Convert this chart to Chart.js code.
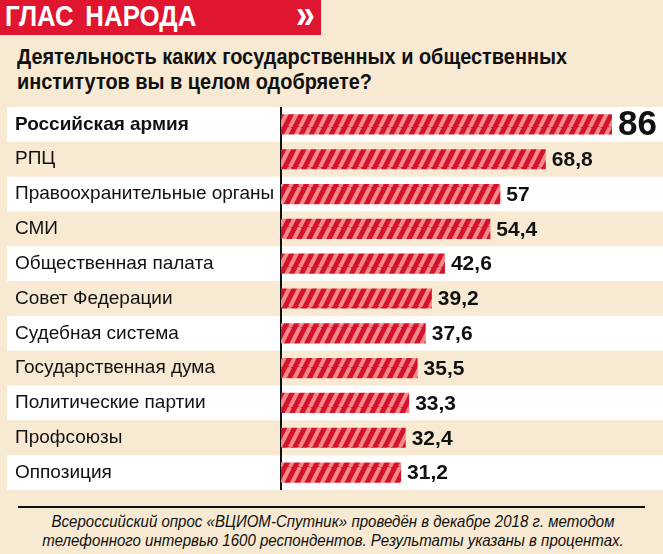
<!DOCTYPE html>
<html lang="ru">
<head>
<meta charset="utf-8">
<script src="https://cdn.jsdelivr.net/npm/chart.js@4/dist/chart.umd.min.js"></script>
<style>
  html, body { margin: 0; padding: 0; }
  body { width: 663px; height: 554px; background: #f8ead2; position: relative; overflow: hidden; font-family: "Liberation Sans", Arial, sans-serif; }
  .head { position: absolute; left: 0; top: 0; width: 321px; height: 35px; background: #e0152f; color: #fff; overflow: hidden; }
  .head .t { position: absolute; left: 5px; top: 0px; font: bold 29px "Liberation Sans", sans-serif; word-spacing: 5px; white-space: nowrap; transform: scaleX(0.89); transform-origin: 0 0; }
  .head .q { position: absolute; left: 296px; top: -8px; font: bold 40px "Liberation Sans", sans-serif; transform: scaleX(0.85); transform-origin: 0 0; }
  .title { position: absolute; left: 17px; top: 44px; font: bold 22px/25px "Liberation Sans", sans-serif; color: #111; white-space: nowrap; transform: scaleX(0.905); transform-origin: 0 0; }
  #wrap { position: absolute; left: 0; top: 107px; width: 663px; height: 383px; }
  .rule { position: absolute; left: 18px; top: 506px; width: 627px; height: 2px; background: #111; }
  .foot { position: absolute; left: 333px; top: 512px; text-align: center; font: italic 17px/19px "Liberation Sans", sans-serif; color: #111; white-space: nowrap; transform: translateX(-50%) scaleX(0.885); transform-origin: 50% 0; }
</style>
</head>
<body>
<div class="head"><span class="t">ГЛАС НАРОДА</span><span class="q">»</span></div>
<div class="title">Деятельность каких государственных и общественных<br>институтов вы в целом одобряете?</div>
<div id="wrap"><canvas id="approvalChart" width="663" height="383"></canvas></div>
<div class="rule"></div>
<div class="foot">Всероссийский опрос «ВЦИОМ-Спутник» проведён в декабре 2018 г. методом<br>телефонного интервью 1600 респондентов. Результаты указаны в процентах.</div>

<script>
// Данные
const institutions = [
  "Российская армия", "РПЦ", "Правоохранительные органы", "СМИ",
  "Общественная палата", "Совет Федерации", "Судебная система",
  "Государственная дума", "Политические партии", "Профсоюзы", "Оппозиция"
];
const approval = [86, 68.8, 57, 54.4, 42.6, 39.2, 37.6, 35.5, 33.3, 32.4, 31.2];
const valueLabels = ["86", "68,8", "57", "54,4", "42,6", "39,2", "37,6", "35,5", "33,3", "32,4", "31,2"];

// Штриховка для столбиков
function makeStripes() {
  const c = document.createElement("canvas");
  c.width = 10; c.height = 20;
  const g = c.getContext("2d");
  g.fillStyle = "#d3132c";
  g.fillRect(0, 0, 10, 20);
  g.strokeStyle = "#f3898b";
  g.lineWidth = 4;
  for (let k = -1; k <= 2; k++) {
    g.beginPath();
    g.moveTo(k * 10, 20);
    g.lineTo(k * 10 + 10, 0);
    g.stroke();
  }
  return g.createPattern(c, "repeat");
}

// Полосы строк (белые / бежевые)
const rowBands = {
  id: "rowBands",
  beforeDraw(chart) {
    const { ctx, scales: { y } } = chart;
    const step = y.height / institutions.length;
    ctx.save();
    institutions.forEach((_, i) => {
      if (i % 2 === 0) {
        ctx.fillStyle = "#ffffff";
        const yc = y.getPixelForValue(i);
        ctx.fillRect(7, yc - step / 2, chart.width - 7, step);
      }
    });
    ctx.restore();
  }
};

// Подписи значений
const valueText = {
  id: "valueText",
  afterDatasetsDraw(chart) {
    const { ctx } = chart;
    const meta = chart.getDatasetMeta(0);
    ctx.save();
    ctx.fillStyle = "#111";
    ctx.textBaseline = "middle";
    meta.data.forEach((bar, i) => {
      ctx.font = i === 0 ? "bold 35px 'Liberation Sans', Arial" : "bold 21px 'Liberation Sans', Arial";
      ctx.fillText(valueLabels[i], bar.x + 6, bar.y + 1);
    });
    ctx.restore();
  }
};

new Chart(document.getElementById("approvalChart"), {
  type: "bar",
  data: {
    labels: institutions,
    datasets: [{
      data: approval,
      backgroundColor: makeStripes(),
      borderWidth: 0,
      barPercentage: 0.58,
      categoryPercentage: 1
    }]
  },
  options: {
    indexAxis: "y",
    responsive: false,
    animation: false,
    layout: { padding: { left: 15, right: 1, top: 0, bottom: 0 } },
    plugins: { legend: { display: false }, tooltip: { enabled: false } },
    scales: {
      x: { display: false, min: 0, max: 99 },
      y: {
        afterFit(scale) {
          scale.width = 266;
          scale.paddingTop = 0;
          scale.paddingBottom = 0;
        },
        grid: { display: false },
        border: { display: true, color: "#111", width: 2 },
        ticks: {
          crossAlign: "far",
          color: "#111",
          font: (ctx) => ({
            family: "'Liberation Sans', Arial",
            size: 19,
            weight: ctx.index === 0 ? "bold" : "normal"
          })
        }
      }
    }
  },
  plugins: [rowBands, valueText]
});
</script>
</body>
</html>
